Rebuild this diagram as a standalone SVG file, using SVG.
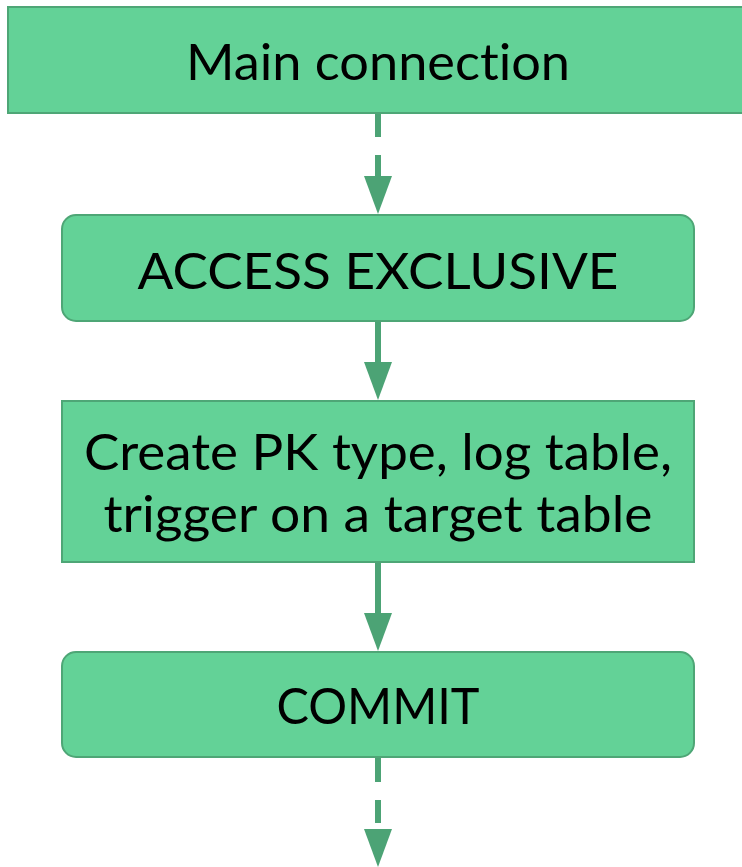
<svg xmlns="http://www.w3.org/2000/svg" width="742" height="867" viewBox="0 0 742 867">
<style>
.box{fill:#63d297;stroke:#4ea676;stroke-width:2}
.t{font-family:Lato,"Noto Sans",sans-serif;font-size:51px;fill:#000;text-anchor:middle;font-variant-ligatures:none}
.ln{stroke:#4ca375;stroke-width:6;fill:none}
.ah{fill:#4ca375}
</style>
<rect width="742" height="867" fill="#fff"/>
<g id="node-main"><rect class="box" x="8" y="7" width="740" height="106"/><text class="t" x="378" y="80" textLength="384" lengthAdjust="spacingAndGlyphs">Main connection</text></g>
<g id="node-access"><rect class="box" x="62" y="215" width="632" height="106" rx="14"/><text class="t" x="378" y="289" textLength="481" lengthAdjust="spacingAndGlyphs">ACCESS EXCLUSIVE</text></g>
<g id="node-create"><rect class="box" x="62" y="401" width="632" height="161"/><text class="t" x="378" y="470" textLength="588" lengthAdjust="spacingAndGlyphs">Create PK type, log table,</text><text class="t" x="378" y="532" textLength="549" lengthAdjust="spacingAndGlyphs">trigger on a target table</text></g>
<g id="node-commit"><rect class="box" x="62" y="652" width="632" height="105" rx="14"/><text class="t" x="378" y="724" textLength="203" lengthAdjust="spacingAndGlyphs">COMMIT</text></g>
<g id="connectors">
<line class="ln" x1="378" y1="114" x2="378" y2="137"/>
<line class="ln" x1="378" y1="155" x2="378" y2="180"/>
<polygon class="ah" points="364,176 392,176 378,214"/>
<line class="ln" x1="378" y1="322" x2="378" y2="366"/>
<polygon class="ah" points="364,362 392,362 378,400"/>
<line class="ln" x1="378" y1="563" x2="378" y2="617"/>
<polygon class="ah" points="364,613 392,613 378,651"/>
<line class="ln" x1="378" y1="758" x2="378" y2="782"/>
<line class="ln" x1="378" y1="800" x2="378" y2="823"/>
<polygon class="ah" points="364,829 392,829 378,867"/>
</g>
</svg>
